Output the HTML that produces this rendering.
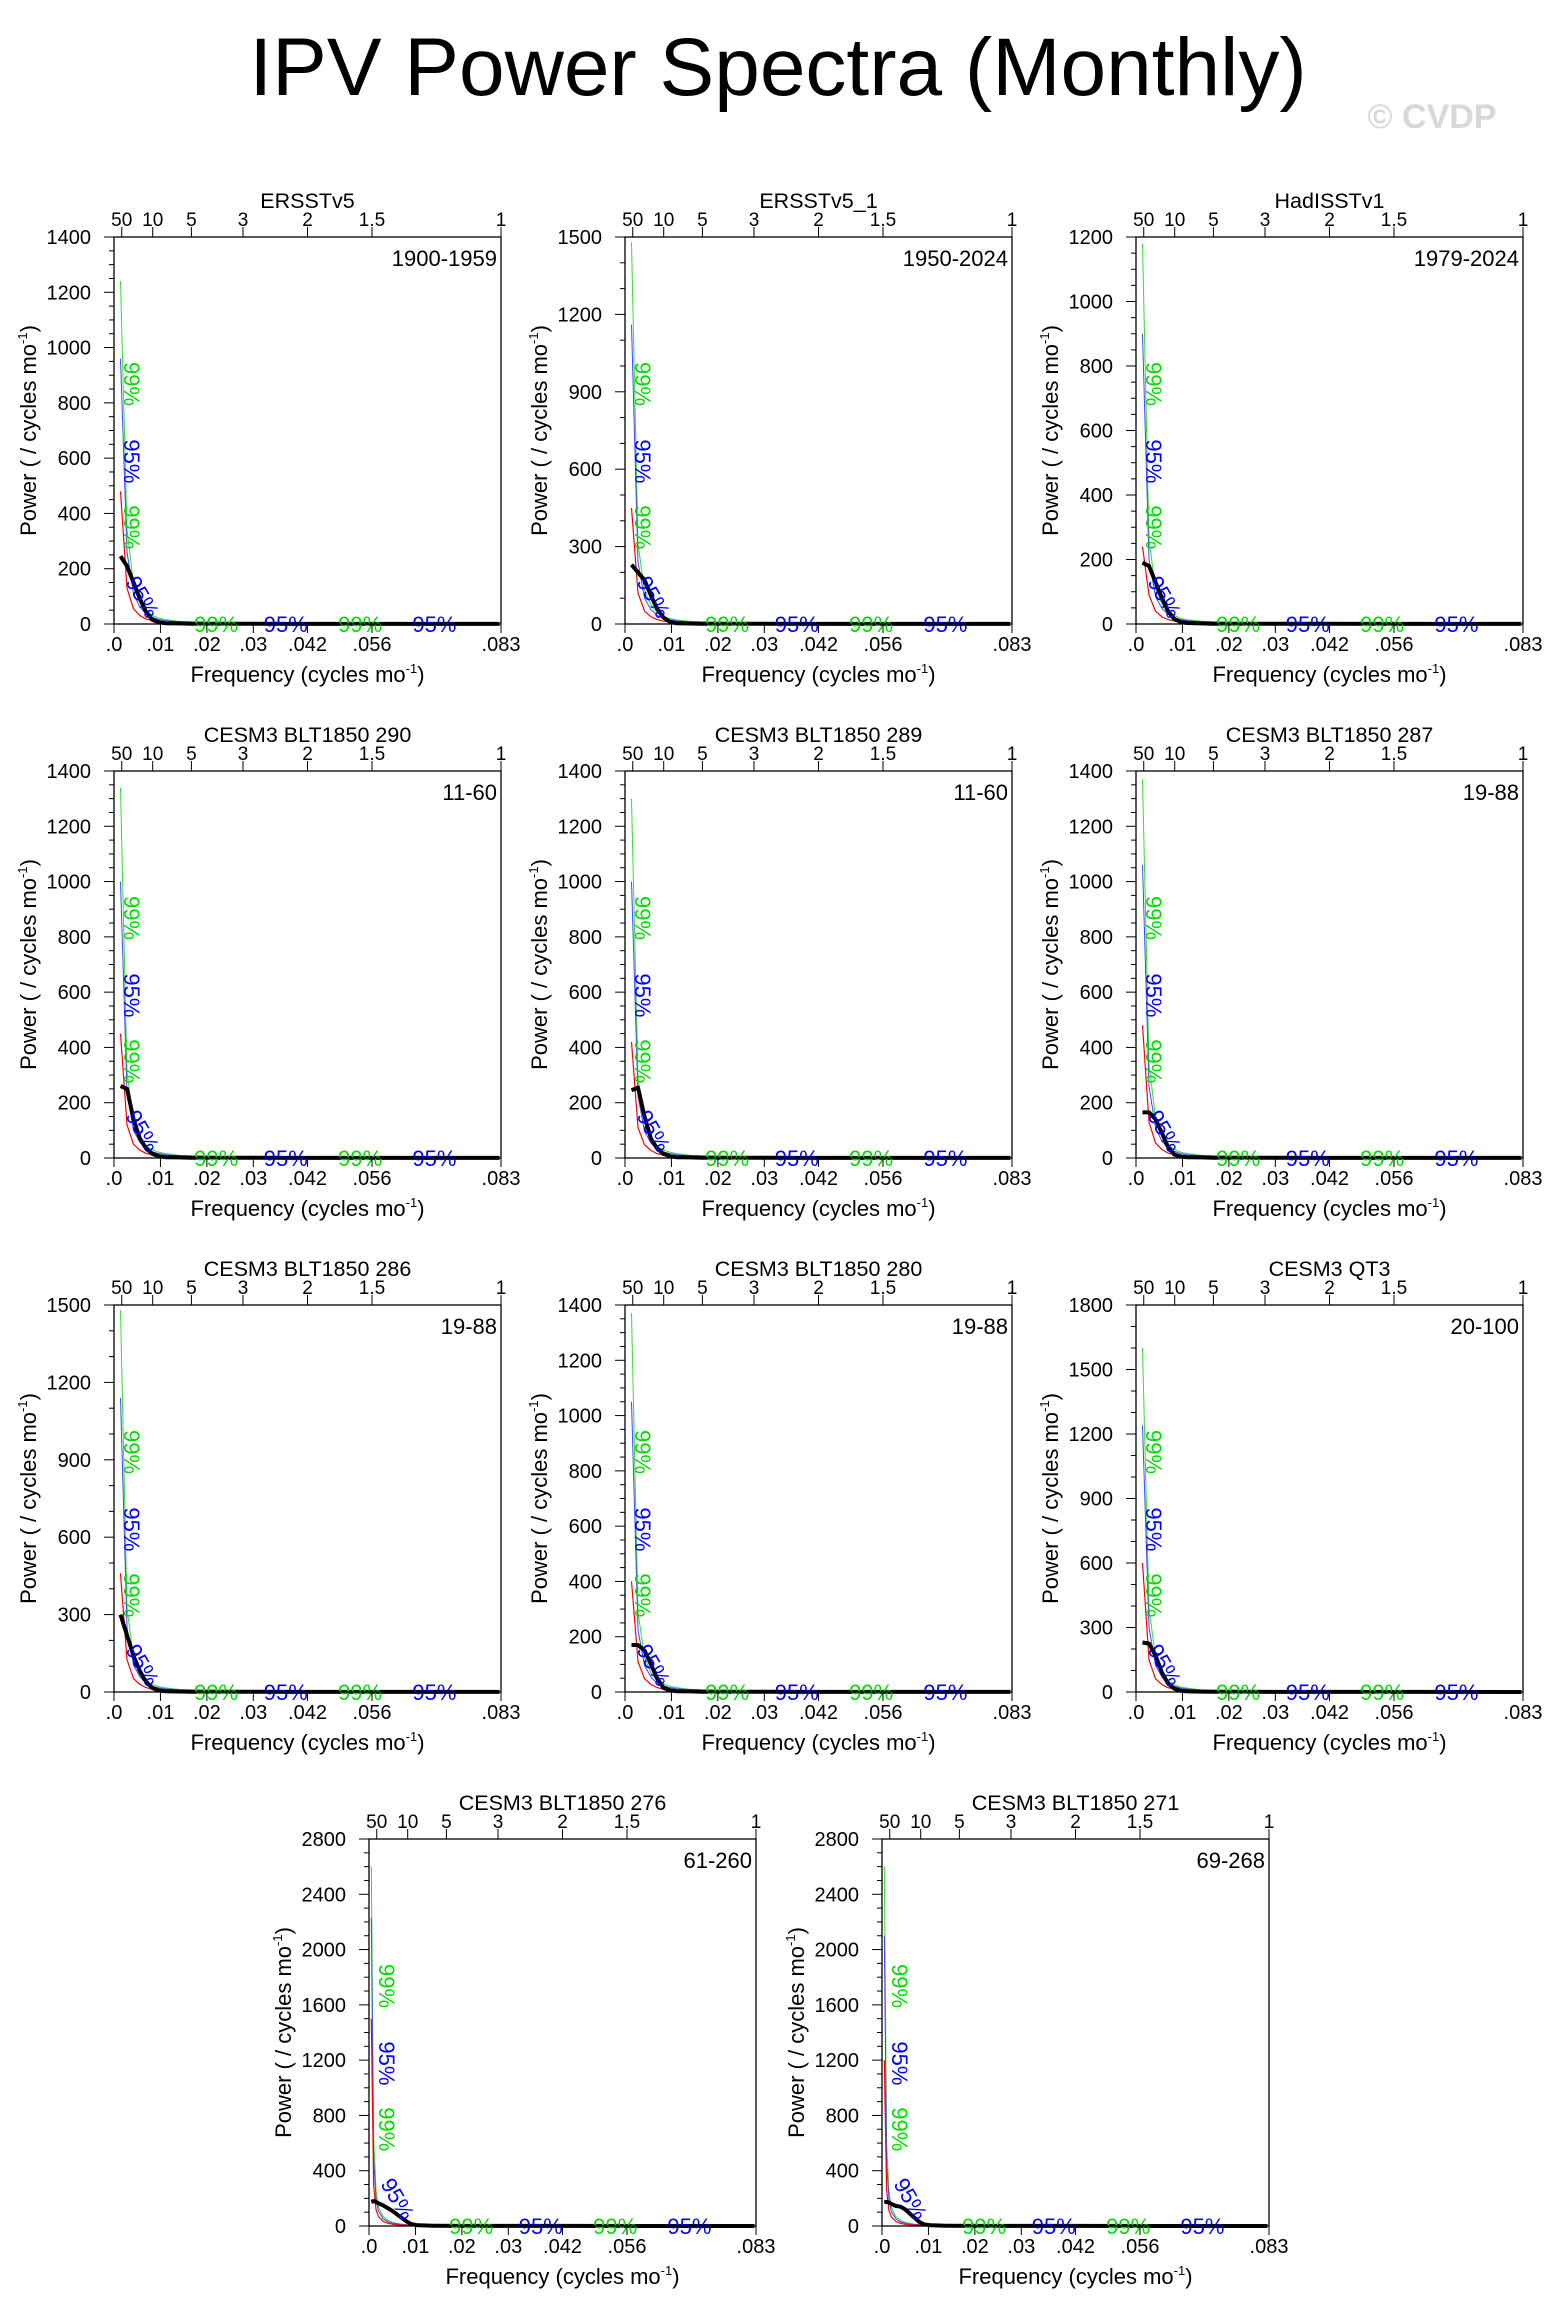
<!DOCTYPE html>
<html><head><meta charset="utf-8"><style>
html,body{margin:0;padding:0;background:#fff}
svg{display:block;font-family:"Liberation Sans",sans-serif}
</style></head><body>
<svg id="fig" width="1554" height="2319" viewBox="0 0 1554 2319" xmlns="http://www.w3.org/2000/svg">
<text x="778" y="95" font-size="82" text-anchor="middle">IPV Power Spectra (Monthly)</text>
<text x="1432" y="128" font-size="34" font-weight="bold" fill="#d8d8d8" text-anchor="middle">© CVDP</text>
<g id="panels"></g>
</svg>
<script>
const panelNames = ["ERSSTv5","ERSSTv5_1","HadISSTv1","CESM3 BLT1850 290","CESM3 BLT1850 289","CESM3 BLT1850 287","CESM3 BLT1850 286","CESM3 BLT1850 280","CESM3 QT3","CESM3 BLT1850 276","CESM3 BLT1850 271"];
const panelYears = ["1900-1959","1950-2024","1979-2024","11-60","11-60","19-88","19-88","19-88","20-100","61-260","69-268"];
const panelYMax = [1400,1500,1200,1400,1400,1400,1500,1400,1800,2800,2800];
const panelYStep = [200,300,200,200,200,200,300,200,300,400,400];
const panelYMinor = [50,100,50,50,50,50,100,50,100,100,100];
const freqShort = [0.0014,0.0028,0.0042,0.0056,0.0069,0.0083,0.0097,0.0111,0.0139,0.0167,0.025,0.04,0.06,0.083];
const freqLong = [0.0005,0.001,0.0015,0.002,0.003,0.004,0.005,0.006,0.007,0.008,0.009,0.0105,0.0139,0.02,0.04,0.083];
const panelFreqSet = [0,0,0,0,0,0,0,0,0,1,1];
const blackPower = [
 [245,210,150,90,45,15,6,3,2,1,1,0.5,0.3,0.2],
 [230,200,170,110,60,25,8,3,2,1,1,0.5,0.3,0.2],
 [190,180,130,80,40,15,6,3,2,1,1,0.5,0.3,0.2],
 [260,250,140,70,35,15,6,3,2,1,1,0.5,0.3,0.2],
 [245,255,150,70,35,15,6,3,2,1,1,0.5,0.3,0.2],
 [165,165,140,90,40,12,5,3,2,1,1,0.5,0.3,0.2],
 [300,220,140,80,40,15,6,3,2,1,1,0.5,0.3,0.2],
 [170,170,150,100,50,15,6,3,2,1,1,0.5,0.3,0.2],
 [230,225,170,90,40,15,6,3,2,1,1,0.5,0.3,0.2],
 [175,180,175,165,150,130,110,85,60,35,15,5,2,1,0.5,0.2],
 [170,175,170,160,145,140,120,90,60,30,12,5,2,1,0.5,0.2]];
const redPower = [
 [480,130,55,30,18,12,8,6,4,3,2,1,0.5,0.3],
 [450,120,50,28,17,11,8,6,4,3,2,1,0.5,0.3],
 [240,90,40,22,14,9,6,5,3,2,1.5,1,0.5,0.3],
 [450,120,50,28,17,11,8,6,4,3,2,1,0.5,0.3],
 [420,110,48,27,16,11,8,6,4,3,2,1,0.5,0.3],
 [480,130,55,30,18,12,8,6,4,3,2,1,0.5,0.3],
 [460,125,52,29,17,11,8,6,4,3,2,1,0.5,0.3],
 [400,110,48,27,16,11,8,6,4,3,2,1,0.5,0.3],
 [600,150,62,34,20,13,9,7,4,3,2,1,0.5,0.3],
 [1500,300,120,70,35,20,13,9,7,5,4,3,2,1,0.5,0.3],
 [1200,260,110,65,33,19,12,9,7,5,4,3,2,1,0.5,0.3]];
const bluePower = [
 [960,260,110,60,36,24,16,12,8,6,4,2,1,0.6],
 [1160,240,100,56,34,22,16,12,8,6,4,2,1,0.6],
 [900,200,85,48,30,20,13,10,7,5,3,2,1,0.6],
 [1000,240,100,56,34,22,16,12,8,6,4,2,1,0.6],
 [1000,225,96,54,32,22,16,12,8,6,4,2,1,0.6],
 [1060,260,110,60,36,24,16,12,8,6,4,2,1,0.6],
 [1140,250,104,58,34,22,16,12,8,6,4,2,1,0.6],
 [1050,225,96,54,32,22,16,12,8,6,4,2,1,0.6],
 [1240,300,124,68,40,26,18,14,8,6,4,2,1,0.6],
 [2230,500,200,110,55,32,21,15,11,8,6,5,3,2,1,0.5],
 [2100,450,190,105,52,30,20,14,11,8,6,5,3,2,1,0.5]];
const greenPower = [
 [1240,340,145,78,47,31,21,16,10,8,5,3,1.3,0.8],
 [1480,310,130,73,44,29,21,16,10,8,5,3,1.3,0.8],
 [1180,260,110,62,39,26,17,13,9,7,4,3,1.3,0.8],
 [1340,310,130,73,44,29,21,16,10,8,5,3,1.3,0.8],
 [1300,290,125,70,42,29,21,16,10,8,5,3,1.3,0.8],
 [1370,340,145,78,47,31,21,16,10,8,5,3,1.3,0.8],
 [1480,325,135,75,44,29,21,16,10,8,5,3,1.3,0.8],
 [1370,290,125,70,42,29,21,16,10,8,5,3,1.3,0.8],
 [1600,390,160,88,52,34,23,18,10,8,5,3,1.3,0.8],
 [2600,650,260,140,70,42,27,19,14,10,8,6,4,2.5,1.2,0.7],
 [2600,600,250,135,68,40,26,19,14,10,8,6,4,2.5,1.2,0.7]];
const bottomTickVals = [0,0.01,0.02,0.03,0.041667,0.055556,0.083333];
const bottomTickLabels = [".0",".01",".02",".03",".042",".056",".083"];
const topTickYears = [50,10,5,3,2,1.5,1];
const topTickLabels = ["50","10","5","3","2","1.5","1"];
const sigLabelFreqs = [0.022,0.037,0.053,0.069];
const sigLabelTexts = ["99%","95%","99%","95%"];

const W=387,H=387,XMAX=0.083333;
const origins=[[114,237],[625,237],[1136,237],[114,771],[625,771],[1136,771],[114,1305],[625,1305],[1136,1305],[369,1839],[882,1839]];
const NS="http://www.w3.org/2000/svg";
const root=document.getElementById('panels');
function mk(tag,attrs,parent){const e=document.createElementNS(NS,tag);for(const k in attrs)e.setAttribute(k,attrs[k]);parent.appendChild(e);return e;}

panelNames.forEach((name,i)=>{
  const [L,T]=origins[i];
  const ymax=panelYMax[i];
  const fx=f=>L+f/XMAX*W;
  const fy=v=>T+H-Math.min(v,ymax)/ymax*H;
  const g=mk('g',{},root);
  
  
  const freqs=panelFreqSet[i]?freqLong:freqShort;
  function series(vals,color,width,nm){
    const d=vals.map((v,k)=>(k?'L':'M')+fx(freqs[k]).toFixed(1)+','+fy(v).toFixed(1)).join(' ');
    const p=mk('path',{d:d,fill:'none',stroke:color,'stroke-width':width,'stroke-linejoin':'round'},g);
    
    
  }
  series(greenPower[i],'#33dd33',1,'confidence-99-line');
  series(bluePower[i],'#4444ff',1,'confidence-95-line');
  series(redPower[i],'#ff0000',1.2,'red-noise-line');
  series(blackPower[i],'#000',4,'power-spectrum-line');
  const rot=[[0.62,'#00dd00','99%'],[0.42,'#0000ff','95%'],[0.25,'#00dd00','99%'],[0.06,'#0000ff','95%']];
  rot.forEach((r,k)=>{
    const x=L+(k==3?22:10), y=T+H-r[0]*H;
    const t=mk('text',{x:x,y:y,'font-size':22,fill:r[1],'text-anchor':'middle',transform:`rotate(${k==3?60:90} ${x} ${y})`},g);
    t.textContent=r[2];
    
    
  });
  sigLabelFreqs.forEach((f,k)=>{
    const t=mk('text',{x:fx(f),y:T+H+8,'font-size':22,fill:k%2?'#0000ff':'#00dd00','text-anchor':'middle'},g);
    t.textContent=sigLabelTexts[k];
    
    
  });
  const fr=mk('rect',{x:L,y:T,width:W,height:H,fill:'none',stroke:'#000','stroke-width':1.3},g);
  
  
  for(let v=0;v<=ymax+0.01;v+=panelYMinor[i]){
    const major=Math.abs(v/panelYStep[i]-Math.round(v/panelYStep[i]))<1e-6;
    mk('line',{x1:L-(major?10:5),x2:L,y1:fy(v),y2:fy(v),stroke:'#000','stroke-width':1},g);
    if(major){
      const t=mk('text',{x:L-23,y:fy(v)+7,'font-size':20,'text-anchor':'end'},g);
      t.textContent=String(v);
      
      
    }
  }
  bottomTickVals.forEach((f,k)=>{
    mk('line',{x1:fx(f),x2:fx(f),y1:T+H,y2:T+H+9,stroke:'#000','stroke-width':1},g);
    const t=mk('text',{x:fx(f),y:T+H+27,'font-size':20,'text-anchor':'middle'},g);
    t.textContent=bottomTickLabels[k];
    
    
  });
  topTickYears.forEach((yr,k)=>{
    const f=1/(12*yr);
    mk('line',{x1:fx(f),x2:fx(f),y1:T,y2:T-10,stroke:'#000','stroke-width':1},g);
    const t=mk('text',{x:fx(f),y:T-11,'font-size':19,'text-anchor':'middle'},g);
    t.textContent=topTickLabels[k];
    
    
  });
  const tt=mk('text',{x:L+W/2,y:T-29,'font-size':21.5,'text-anchor':'middle'},g);
  tt.textContent=name;
  
  
  const yr=mk('text',{x:L+W-4,y:T+29,'font-size':22,'text-anchor':'end'},g);
  yr.textContent=panelYears[i];
  
  
  const xl=mk('text',{x:L+W/2,y:T+H+58,'font-size':22,'text-anchor':'middle'},g);
  xl.innerHTML='Frequency (cycles mo<tspan dy="-9" font-size="13">-1</tspan><tspan dy="9">)</tspan>';
  
  
  const yx=L-78, yy=T+H/2;
  const yl=mk('text',{x:yx,y:yy,'font-size':22,'text-anchor':'middle',transform:`rotate(-90 ${yx} ${yy})`},g);
  yl.innerHTML='Power ( / cycles mo<tspan dy="-9" font-size="13">-1</tspan><tspan dy="9">)</tspan>';
  
  
});
</script>
</body></html>
